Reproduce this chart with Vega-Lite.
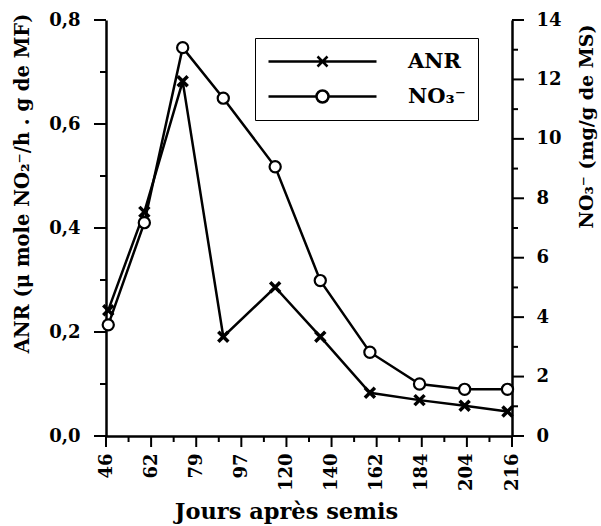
{
  "$schema": "https://vega.github.io/schema/vega-lite/v6.json",
  "width": 406,
  "height": 416,
  "autosize": {"type": "none"},
  "padding": {"left": 106, "top": 20, "right": 89, "bottom": 90},
  "background": "white",
  "config": {
    "view": {"stroke": null},
    "font": "DejaVu Serif",
    "axis": {
      "grid": false,
      "domainColor": "black",
      "domainWidth": 2.5,
      "tickOpacity": 0,
      "labelColor": "black",
      "labelFont": "DejaVu Serif",
      "labelFontWeight": "bold",
      "labelFontSize": 18,
      "titleFont": "DejaVu Serif",
      "titleFontWeight": "bold",
      "titleColor": "black",
      "labelOverlap": false,
      "labelFlush": false
    }
  },
  "datasets": {
    "mesures": [
      {"jour": 46, "anr": 0.242, "no3": 3.74},
      {"jour": 62, "anr": 0.431, "no3": 7.18},
      {"jour": 79, "anr": 0.682, "no3": 13.07},
      {"jour": 97, "anr": 0.191, "no3": 11.37},
      {"jour": 120, "anr": 0.286, "no3": 9.06},
      {"jour": 140, "anr": 0.191, "no3": 5.23},
      {"jour": 162, "anr": 0.083, "no3": 2.82},
      {"jour": 184, "anr": 0.069, "no3": 1.75},
      {"jour": 204, "anr": 0.058, "no3": 1.57},
      {"jour": 223, "anr": 0.047, "no3": 1.57}
    ],
    "series": [
      {"serie": "ANR"},
      {"serie": "NO₃⁻"}
    ],
    "x_major": [{"jour": 45}, {"jour": 65}, {"jour": 85}, {"jour": 105}, {"jour": 125}, {"jour": 145}, {"jour": 165}, {"jour": 185}, {"jour": 205}, {"jour": 225}],
    "x_minor": [{"jour": 55}, {"jour": 75}, {"jour": 95}, {"jour": 115}, {"jour": 135}, {"jour": 155}, {"jour": 175}, {"jour": 195}, {"jour": 215}],
    "anr_major": [{"anr": 0}, {"anr": 0.2}, {"anr": 0.4}, {"anr": 0.6}, {"anr": 0.8}],
    "anr_minor": [{"anr": 0.1}, {"anr": 0.3}, {"anr": 0.5}, {"anr": 0.7}],
    "no3_major": [{"no3": 0}, {"no3": 2}, {"no3": 4}, {"no3": 6}, {"no3": 8}, {"no3": 10}, {"no3": 12}, {"no3": 14}],
    "no3_minor": [{"no3": 1}, {"no3": 3}, {"no3": 5}, {"no3": 7}, {"no3": 9}, {"no3": 11}, {"no3": 13}]
  },
  "layer": [
    {
      "layer": [
        {
          "data": {"name": "mesures"},
          "encoding": {
            "x": {
              "field": "jour",
              "type": "quantitative",
              "scale": {"domain": [45, 225], "nice": false, "zero": false},
              "axis": {
                "values": [45, 65, 85, 105, 125, 145, 165, 185, 205, 225],
                "labelExpr": "['46','62','79','97','120','140','162','184','204','216'][round((datum.value-45)/20)]",
                "tickSize": 11,
                "labelAngle": 270,
                "labelAlign": "right",
                "labelBaseline": "middle",
                "labelPadding": 6,
                "title": "Jours après semis",
                "titleFontSize": 22.5,
                "titleX": 180,
                "titleY": 82,
                "titleBaseline": "alphabetic",
                "titleAnchor": null,
                "titleAlign": "center"
              }
            },
            "y": {
              "field": "anr",
              "type": "quantitative",
              "scale": {"domain": [0, 0.8], "nice": false},
              "axis": {
                "orient": "left",
                "values": [0, 0.2, 0.4, 0.6, 0.8],
                "labelExpr": "replace(format(datum.value,'.1f'),'.',',')",
                "tickSize": 12,
                "labelPadding": 14,
                "title": "ANR (μ mole NO₂⁻/h . g de MF)",
                "titleFontSize": 19.5,
                "titleAngle": 270,
                "titleX": -84,
                "titleY": 163,
                "titleAlign": "center",
                "titleBaseline": "middle",
                "titleAnchor": null
              }
            }
          },
          "layer": [
            {"mark": {"type": "line", "color": "black", "strokeWidth": 2.5}},
            {"mark": {"type": "point", "shape": "M-1,-1L1,1M-1,1L1,-1", "size": 100, "stroke": "black", "strokeWidth": 3.5, "filled": false, "opacity": 1}}
          ]
        },
        {
          "data": {"name": "x_major"},
          "mark": {"type": "tick", "orient": "vertical", "color": "black", "size": 11, "thickness": 2, "yOffset": 5.5, "opacity": 1},
          "encoding": {
            "x": {"field": "jour", "type": "quantitative"},
            "y": {"datum": 0, "type": "quantitative"}
          }
        },
        {
          "data": {"name": "x_minor"},
          "mark": {"type": "tick", "orient": "vertical", "color": "black", "size": 6, "thickness": 2, "yOffset": 3, "opacity": 1},
          "encoding": {
            "x": {"field": "jour", "type": "quantitative"},
            "y": {"datum": 0, "type": "quantitative"}
          }
        },
        {
          "data": {"name": "anr_major"},
          "mark": {"type": "tick", "orient": "horizontal", "color": "black", "size": 12, "thickness": 2, "xOffset": -6, "opacity": 1},
          "encoding": {
            "y": {"field": "anr", "type": "quantitative"},
            "x": {"datum": 45, "type": "quantitative"}
          }
        },
        {
          "data": {"name": "anr_minor"},
          "mark": {"type": "tick", "orient": "horizontal", "color": "black", "size": 6, "thickness": 2, "xOffset": -3, "opacity": 1},
          "encoding": {
            "y": {"field": "anr", "type": "quantitative"},
            "x": {"datum": 45, "type": "quantitative"}
          }
        }
      ]
    },
    {
      "layer": [
        {
          "data": {"name": "mesures"},
          "encoding": {
            "x": {"field": "jour", "type": "quantitative", "scale": {"domain": [45, 225], "nice": false, "zero": false}},
            "y": {
              "field": "no3",
              "type": "quantitative",
              "scale": {"domain": [0, 14], "nice": false},
              "axis": {
                "orient": "right",
                "values": [0, 2, 4, 6, 8, 10, 12, 14],
                "tickSize": 12,
                "labelPadding": 12,
                "title": "NO₃⁻ (mg/g de MS)",
                "titleFontSize": 19,
                "titleAngle": 270,
                "titleX": 74,
                "titleY": 106,
                "titleAlign": "center",
                "titleBaseline": "middle",
                "titleAnchor": null
              }
            }
          },
          "layer": [
            {"mark": {"type": "line", "color": "black", "strokeWidth": 2.5}},
            {"mark": {"type": "point", "shape": "circle", "size": 125, "stroke": "black", "fill": "white", "strokeWidth": 2.2, "filled": true, "opacity": 1}}
          ]
        },
        {
          "data": {"name": "no3_major"},
          "mark": {"type": "tick", "orient": "horizontal", "color": "black", "size": 12, "thickness": 2, "xOffset": 6, "opacity": 1},
          "encoding": {
            "y": {"field": "no3", "type": "quantitative"},
            "x": {"datum": 225, "type": "quantitative"}
          }
        },
        {
          "data": {"name": "no3_minor"},
          "mark": {"type": "tick", "orient": "horizontal", "color": "black", "size": 6, "thickness": 2, "xOffset": 3, "opacity": 1},
          "encoding": {
            "y": {"field": "no3", "type": "quantitative"},
            "x": {"datum": 225, "type": "quantitative"}
          }
        }
      ]
    },
    {
      "data": {"name": "series"},
      "mark": {"type": "point", "filled": false, "color": "black", "strokeWidth": 2.5, "opacity": 0},
      "encoding": {
        "shape": {
          "field": "serie",
          "type": "nominal",
          "scale": {
            "domain": ["ANR", "NO₃⁻"],
            "range": [
              "M-1,0H9.8M3.9,-0.5L4.9,0.5M3.9,0.5L4.9,-0.5",
              "M-1,0H3.8M5,0H9.8M5,0A0.6,0.6,0,1,1,3.8,0A0.6,0.6,0,1,1,5,0Z"
            ]
          },
          "legend": {
            "title": null,
            "orient": "none",
            "legendX": 149,
            "legendY": 18,
            "strokeColor": "black",
            "padding": 12,
            "symbolSize": 400,
            "symbolStrokeColor": "black",
            "symbolStrokeWidth": 2.5,
            "symbolOpacity": 1,
            "labelFont": "DejaVu Serif",
            "labelFontWeight": "bold",
            "labelFontSize": 21,
            "labelColor": "black",
            "labelOffset": 118,
            "rowPadding": 13,
            "encode": {
              "legend": {"update": {"strokeWidth": {"value": 2}}},
              "symbols": {"update": {"opacity": {"value": 1}}}
            }
          }
        }
      }
    }
  ],
  "resolve": {"scale": {"y": "independent"}}
}
